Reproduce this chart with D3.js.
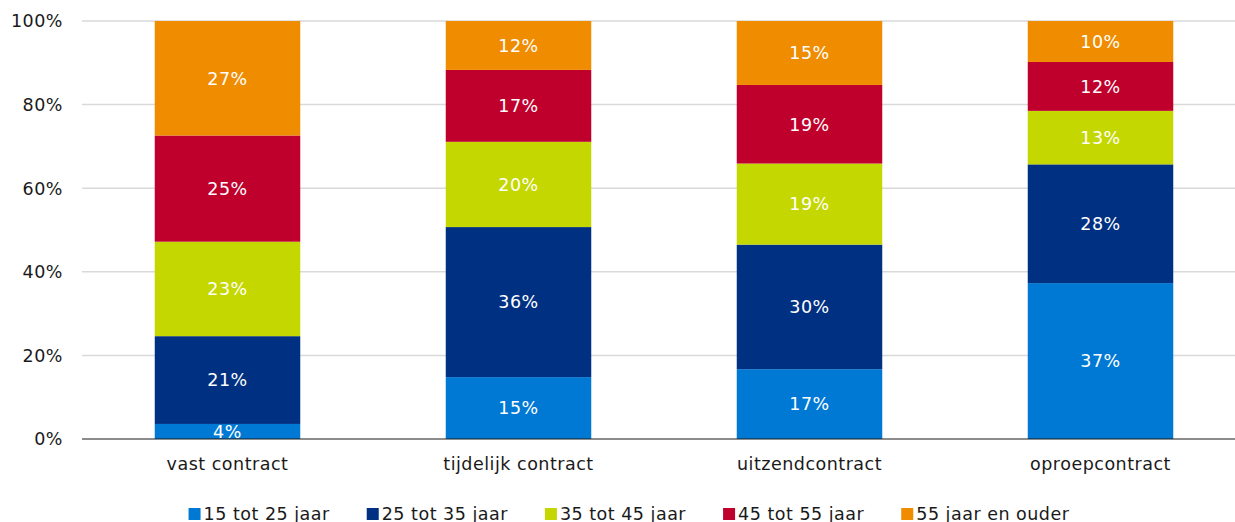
<!DOCTYPE html>
<html>
<head>
<meta charset="utf-8">
<script src="https://cdn.jsdelivr.net/npm/d3@7"></script>
<style>
  body { margin: 0; background: #fff; }
  svg text { font-family: "DejaVu Sans", Verdana, sans-serif; letter-spacing: 0.5px; }
</style>
</head>
<body>
<div id="chart"></div>
<script>
// categorieen en reeksen (aandeel in %)
var categories = ["vast contract", "tijdelijk contract", "uitzendcontract", "oproepcontract"];
var seriesNames = ["15 tot 25 jaar", "25 tot 35 jaar", "35 tot 45 jaar", "45 tot 55 jaar", "55 jaar en ouder"];
var s15 = [3.6, 14.8, 16.7, 37.3];
var s25 = [21.0, 35.9, 29.8, 28.4];
var s35 = [22.6, 20.4, 19.4, 12.8];
var s45 = [25.4, 17.2, 18.8, 11.7];
var s55 = [27.4, 11.7, 15.3, 9.8];
var yTicks = [0, 20, 40, 60, 80, 100];
var colors = ["#0079d4", "#003082", "#c4d700", "#c0002c", "#f08c00"];

var width = 1235, height = 522;
var margin = {top: 21, right: -11, bottom: 83, left: 82};
var plotW = width - margin.left - margin.right;
var plotH = height - margin.top - margin.bottom;
var fs = 17.5;

var rows = categories.map(function(c, i){
    return {cat: c, s0: s15[i], s1: s25[i], s2: s35[i], s3: s45[i], s4: s55[i]};
});
var keys = ["s0", "s1", "s2", "s3", "s4"];
var stacked = d3.stack().keys(keys)(rows);

var svg = d3.select("#chart").append("svg").attr("width", width).attr("height", height);
var g = svg.append("g").attr("transform", "translate(" + margin.left + "," + margin.top + ")");

var x = d3.scaleBand().domain(categories).range([0, plotW]).paddingInner(0.5).paddingOuter(0.25);
var y = d3.scaleLinear().domain([0, 100]).range([plotH, 0]);

// rasterlijnen
g.selectAll("line.grid").data(yTicks.filter(function(t){ return t > 0; })).enter().append("line")
    .attr("x1", 0).attr("x2", plotW)
    .attr("y1", function(d){ return y(d); }).attr("y2", function(d){ return y(d); })
    .attr("stroke", "#d9d9d9").attr("stroke-width", 1.5);

g.selectAll("text.ytick").data(yTicks).enter().append("text")
    .attr("x", -19).attr("y", function(d){ return y(d); })
    .attr("dy", "0.36em").attr("text-anchor", "end")
    .attr("font-size", fs).attr("fill", "#1a1a1a")
    .text(function(d){ return d + "%"; });

var layer = g.selectAll("g.layer").data(stacked).enter().append("g")
    .attr("fill", function(d, i){ return colors[i]; });

layer.selectAll("rect").data(function(d){ return d; }).enter().append("rect")
    .attr("x", function(d){ return x(d.data.cat); })
    .attr("width", x.bandwidth())
    .attr("y", function(d){ return y(d[1]); })
    .attr("height", function(d){ return y(d[0]) - y(d[1]); });

layer.selectAll("text").data(function(d){ return d; }).enter().append("text")
    .attr("x", function(d){ return x(d.data.cat) + x.bandwidth() / 2; })
    .attr("y", function(d){ return (y(d[0]) + y(d[1])) / 2; })
    .attr("dy", "0.36em").attr("text-anchor", "middle")
    .attr("font-size", fs).attr("fill", "#fff")
    .text(function(d){ return Math.round(d[1] - d[0]) + "%"; });

// x-as
g.append("line").attr("x1", 0).attr("x2", plotW).attr("y1", plotH).attr("y2", plotH)
    .attr("stroke", "#1a1a1a").attr("stroke-width", 1.2);

g.selectAll("text.xcat").data(categories).enter().append("text")
    .attr("x", function(d){ return x(d) + x.bandwidth() / 2; })
    .attr("y", plotH + 25).attr("dy", "0.36em").attr("text-anchor", "middle")
    .attr("font-size", fs).attr("fill", "#1a1a1a")
    .text(function(d){ return d; });

// legenda
var legend = svg.append("g");
var lx = 0;
seriesNames.forEach(function(name, i){
    var it = legend.append("g").attr("transform", "translate(" + lx + ",0)");
    it.append("rect").attr("x", 0).attr("y", -6).attr("width", 12).attr("height", 12).attr("fill", colors[i]);
    var t = it.append("text").attr("x", 15).attr("y", 0).attr("dy", "0.36em")
        .attr("font-size", fs).attr("fill", "#1a1a1a").text(name);
    lx += 15 + t.node().getComputedTextLength() + 37;
});
var lw = lx - 37;
legend.attr("transform", "translate(" + (629 - lw / 2) + ",514)");
</script>
</body>
</html>
